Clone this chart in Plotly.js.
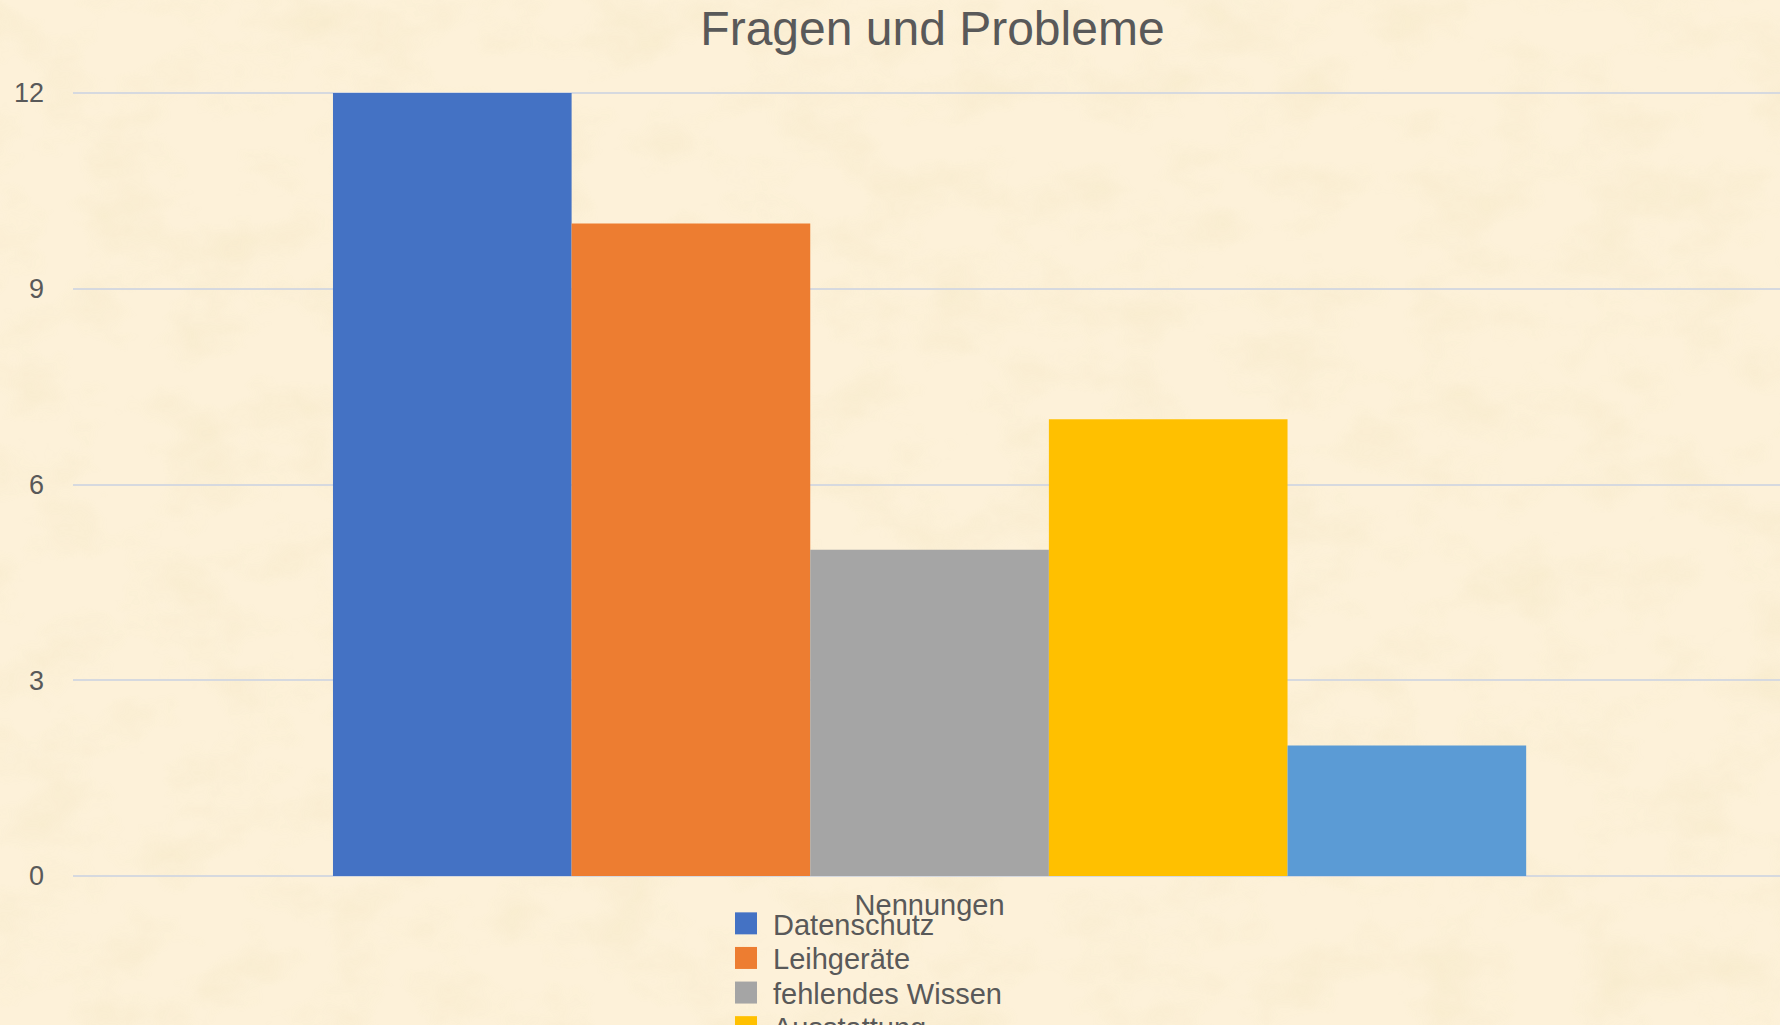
<!DOCTYPE html>
<html>
<head>
<meta charset="utf-8">
<script src="https://cdn.plot.ly/plotly-3.0.1.min.js"></script>
<style>
  html, body { margin: 0; padding: 0; background: #FDF1D9; }
  #chart { width: 1780px; height: 1025px; }
</style>
</head>
<body>
<div id="chart"></div>
<script>
// ---- data ----
const category = ['Nennungen'];
const seriesNames = ['Datenschutz', 'Leihgeräte', 'fehlendes Wissen', 'Ausstattung', 'Sonstiges'];
const seriesValues = [12, 10, 5, 7, 2];
const seriesColors = ['#4472C4', '#ED7D31', '#A5A5A5', '#FFC000', '#5B9BD5'];
const yTicks = [0, 3, 6, 9, 12];

const textColor = '#595959';
const fontFamily = '"Liberation Sans", Arial, Helvetica, sans-serif';

// plot box geometry (pixels)
const W = 1780, H = 1025;
const mL = 73, mR = 0, mT = 90, mB = 146;
const plotW = W - mL - mR, plotH = H - mT - mB;

// subtle parchment texture for the background
const textureSvg =
  '<svg xmlns="http://www.w3.org/2000/svg" width="1780" height="1025">' +
  '<filter id="n" x="0" y="0" width="100%" height="100%">' +
  '<feTurbulence type="fractalNoise" baseFrequency="0.012 0.018" numOctaves="4" seed="7"/>' +
  '<feColorMatrix type="matrix" values="0 0 0 0 0.90  0 0 0 0 0.80  0 0 0 0 0.55  0 0 0 -2.2 1.25"/>' +
  '</filter>' +
  '<rect width="1780" height="1025" fill="#FDF1D9"/>' +
  '<rect width="1780" height="1025" filter="url(#n)" opacity="0.45"/>' +
  '</svg>';
const textureUri = 'data:image/svg+xml;charset=utf-8,' + encodeURIComponent(textureSvg);

const traces = seriesNames.map((name, i) => ({
  type: 'bar',
  name: name,
  x: category,
  y: [seriesValues[i]],
  marker: { color: seriesColors[i], line: { width: 0 } },
  hoverinfo: 'name+y'
}));

const layout = {
  width: W,
  height: H,
  paper_bgcolor: '#FDF1D9',
  plot_bgcolor: 'rgba(0,0,0,0)',
  margin: { l: mL, r: mR, t: mT, b: mB, autoexpand: false },
  font: { family: fontFamily, color: textColor, size: 27 },
  images: [{
    source: textureUri,
    xref: 'paper', yref: 'paper',
    x: -mL / plotW, y: 1 + mT / plotH,
    sizex: W / plotW, sizey: H / plotH,
    xanchor: 'left', yanchor: 'top',
    sizing: 'stretch',
    layer: 'below'
  }],
  title: {
    text: 'Fragen und Probleme',
    font: { family: fontFamily, size: 48, color: textColor },
    x: 0.5035, xref: 'paper', xanchor: 'center',
    y: 1 - 28.5 / H, yref: 'container', yanchor: 'middle'
  },
  barmode: 'group',
  bargap: 0.301,
  bargroupgap: 0,
  xaxis: {
    type: 'category',
    range: [-0.5018, 0.4982],
    showgrid: false,
    zeroline: false,
    showline: false,
    ticks: '',
    tickfont: { size: 29, color: textColor },
    ticklabelstandoff: 6,
    fixedrange: true
  },
  yaxis: {
    range: [-0.046, 12.046],
    tickmode: 'array',
    tickvals: yTicks,
    ticktext: yTicks.map(String),
    showgrid: true,
    gridcolor: '#D6D9DF',
    gridwidth: 2,
    zeroline: false,
    showline: false,
    ticks: '',
    tickfont: { size: 27, color: textColor },
    ticklabelstandoff: 28,
    fixedrange: true
  },
  showlegend: true,
  legend: {
    orientation: 'v',
    x: (719 - mL) / plotW, xref: 'paper', xanchor: 'left',
    y: 1 - 898 / H, yref: 'container', yanchor: 'top',
    bgcolor: 'rgba(0,0,0,0)',
    borderwidth: 0,
    itemwidth: 44,
    font: { size: 29, color: textColor },
    traceorder: 'normal'
  }
};

function tidyLegend() {
  // larger square swatches
  document.querySelectorAll('#chart g.legendpoints path').forEach(p => {
    p.setAttribute('d', 'M11,11H-11V-11H11Z');
  });
  // tighter line spacing between legend entries
  const items = Array.from(document.querySelectorAll('#chart g.legend g.traces'));
  if (!items.length) return;
  const parse = el => {
    const m = /translate\(\s*([-\d.]+)[ ,]+([-\d.]+)\s*\)/.exec(el.getAttribute('transform') || '');
    return m ? [parseFloat(m[1]), parseFloat(m[2])] : [0, 0];
  };
  const first = parse(items[0]);
  items.forEach((el, i) => {
    const t = parse(el);
    el.setAttribute('transform', 'translate(' + t[0] + ',' + (first[1] + i * 34.6) + ')');
  });
}

Plotly.newPlot('chart', traces, layout, { displayModeBar: false, staticPlot: true }).then(() => {
  tidyLegend();
});
</script>
</body>
</html>
